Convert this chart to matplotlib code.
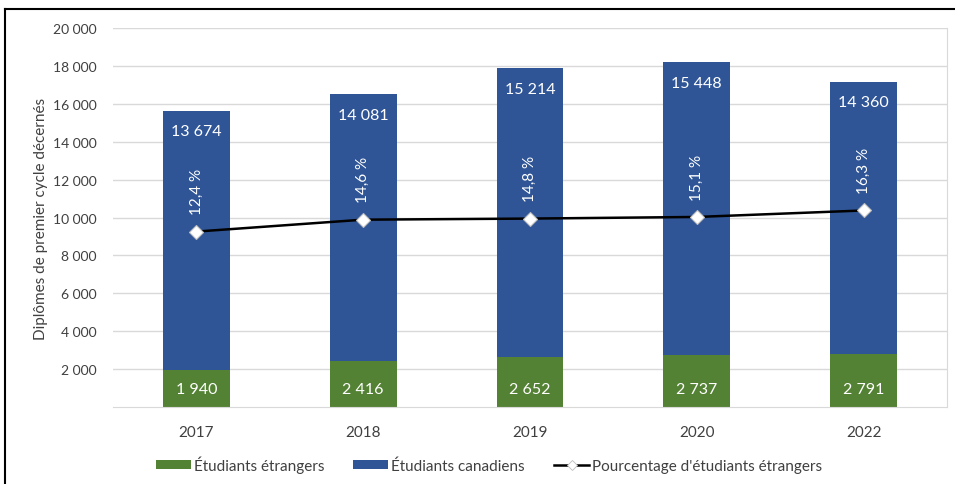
import matplotlib
matplotlib.use("Agg")
import matplotlib.pyplot as plt
from matplotlib.lines import Line2D
from matplotlib.patches import Patch

plt.rcParams['font.family'] = ['Lato', 'DejaVu Sans']

years = ["2017", "2018", "2019", "2020", "2022"]
foreign = [1940, 2416, 2652, 2737, 2791]
canadian = [13674, 14081, 15214, 15448, 14360]
pct = [12.4, 14.6, 14.8, 15.1, 16.3]
yticks = [2000, 4000, 6000, 8000, 10000, 12000, 14000, 16000, 18000, 20000]

GREEN = "#548235"
BLUE = "#2F5597"
TXT = "#404040"
GRID = "#D9D9D9"

def fmt(v):
    return f"{v:,}".replace(",", " ")

fig = plt.figure(figsize=(9.55, 4.85), dpi=100)
ax = fig.add_axes([113/955, 77/485, 834/955, 379/485])

x = list(range(len(years)))
ax.bar(x, foreign, width=0.4, color=GREEN, zorder=2)
ax.bar(x, canadian, width=0.4, bottom=foreign, color=BLUE, zorder=2)

ax.set_xlim(-0.5, len(years) - 0.5)
ax.set_ylim(0, 20000)
ax.set_yticks(yticks)
ax.set_yticklabels([fmt(v) for v in yticks], fontsize=10, color=TXT)
ax.set_xticks(x)
ax.set_xticklabels(years, fontsize=11, color=TXT)
ax.tick_params(axis='both', length=0)
ax.tick_params(axis='y', pad=12)
ax.tick_params(axis='x', pad=13)
ax.grid(axis='y', color=GRID, linewidth=1, zorder=0)
for s in ['left', 'top']:
    ax.spines[s].set_visible(False)
ax.spines['bottom'].set_color(GRID)
ax.spines['right'].set_color(GRID)
ax.set_ylabel("Diplômes de premier cycle décernés", fontsize=11, color=TXT, labelpad=3)

for i in x:
    ax.annotate(fmt(foreign[i]), (i, 0), xytext=(0, 13), textcoords='offset points',
                ha='center', va='center', color='white', fontsize=11.5, zorder=4)
    ax.annotate(fmt(canadian[i]), (i, foreign[i] + canadian[i]), xytext=(0, -14.5),
                textcoords='offset points', ha='center', va='center', color='white',
                fontsize=11.5, zorder=4)

ax2 = ax.twinx()
ax2.set_ylim(-20, 50)
ax2.set_yticks([])
for s in ax2.spines.values():
    s.set_visible(False)
ax2.plot(x, pct, color='black', linewidth=1.8, marker='D', markersize=7.5,
         markerfacecolor='white', markeredgecolor='#BFBFBF', markeredgewidth=0.8, zorder=5)
for i in x:
    ax2.annotate(f"{pct[i]:.1f} %".replace(".", ","), (i, pct[i]), xytext=(0, 29),
                 textcoords='offset points', ha='center', va='center', rotation=90,
                 color='white', fontsize=11, zorder=6)

handles = [
    Patch(facecolor=GREEN, label="Étudiants étrangers"),
    Patch(facecolor=BLUE, label="Étudiants canadiens"),
    Line2D([0], [0], color='black', linewidth=1.8, marker='D', markersize=5,
           markerfacecolor='white', markeredgecolor='#BFBFBF', markeredgewidth=0.6,
           label="Pourcentage d'étudiants étrangers"),
]
leg = fig.legend(handles=handles, loc='center', bbox_to_anchor=(489/955, 1 - 465/485),
                 ncol=3, frameon=False, fontsize=11, handlelength=2.3, handleheight=0.5,
                 handletextpad=0.2, columnspacing=1.9, labelcolor=TXT)

# outer frame
fig.add_artist(Line2D([5/955, 5/955], [0, 1 - 10/485], transform=fig.transFigure,
                      color='black', linewidth=1.5))
fig.add_artist(Line2D([5/955, 1], [1 - 10/485, 1 - 10/485], transform=fig.transFigure,
                      color='black', linewidth=1.5))

fig.savefig("out.png", dpi=100)
